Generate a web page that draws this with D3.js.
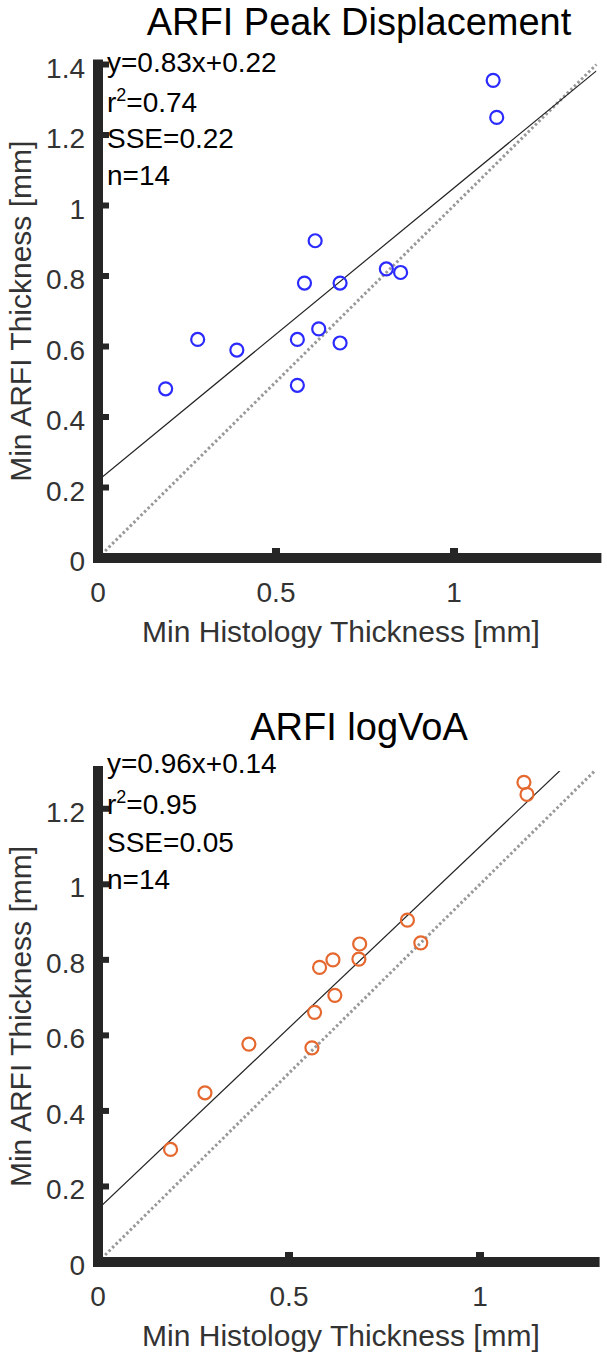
<!DOCTYPE html>
<html>
<head>
<meta charset="utf-8">
<script src="https://d3js.org/d3.v7.min.js"></script>
<style>
  body { margin: 0; background: #fff; }
  svg { display: block; font-family: "Liberation Sans", Arial, sans-serif; }
</style>
</head>
<body>
<svg id="chart" width="607" height="1361"></svg>
<script>
// panel titles and axis labels
const titles = ["ARFI Peak Displacement", "ARFI logVoA"];
const xLabel = "Min Histology Thickness [mm]";
const yLabel = "Min ARFI Thickness [mm]";

// histology thickness (x) and ARFI thickness (y)
const peakX = [1.11, 1.12, 0.61, 0.58, 0.68, 0.81, 0.85, 0.28, 0.39, 0.56, 0.62, 0.68, 0.19, 0.56];
const peakY = [1.355, 1.25, 0.90, 0.78, 0.78, 0.82, 0.81, 0.62, 0.59, 0.62, 0.65, 0.61, 0.48, 0.49];

const voaX = [1.115, 1.123, 0.81, 0.845, 0.685, 0.683, 0.615, 0.58, 0.62, 0.567, 0.56, 0.395, 0.28, 0.19];
const voaY = [1.27, 1.238, 0.905, 0.845, 0.842, 0.802, 0.80, 0.78, 0.706, 0.661, 0.567, 0.577, 0.448, 0.298];

// linear fits and stats text
const fitSlope = [0.83, 0.96];
const fitIntercept = [0.22, 0.14];
const fitText = ["y=0.83x+0.22", "y=0.96x+0.14"];
const r2Text = ["0.74", "0.95"];
const sseText = ["SSE=0.22", "SSE=0.05"];
const nText = ["n=14", "n=14"];

// axis limits and ticks
const axisMax = [1.4, 1.3];
const xTicks = [0, 0.5, 1];
const yTicks = [0, 0.2, 0.4, 0.6, 0.8, 1, 1.2, 1.4];

const markerColors = ["#2b2bff", "#e5682f"];

const svg = d3.select("#chart");

const panels = [
  { xs: peakX, ys: peakY, top: 64.5, bottom: 558, left: 98, right: 596.4, titleY: 35, statsY: [72, 112, 148, 185] },
  { xs: voaX, ys: voaY, top: 771, bottom: 1262, left: 98, right: 594.6, titleY: 740, statsY: [773, 814, 852, 889] }
];

panels.forEach((p, i) => {
  const max = axisMax[i];
  const x = d3.scaleLinear().domain([0, max]).range([p.left, p.right]);
  const y = d3.scaleLinear().domain([0, max]).range([p.bottom, p.top]);
  const g = svg.append("g");

  const clipId = "clip" + i;
  svg.append("clipPath").attr("id", clipId)
    .append("rect")
    .attr("x", p.left).attr("y", p.top)
    .attr("width", p.right - p.left).attr("height", p.bottom - p.top);

  // identity line (dotted gray)
  g.append("line")
    .attr("x1", x(0)).attr("y1", y(0))
    .attr("x2", x(max)).attr("y2", y(max))
    .attr("stroke", "#999")
    .attr("stroke-width", 3)
    .attr("stroke-dasharray", "2.5,2.5");

  // fit line
  g.append("line")
    .attr("clip-path", `url(#${clipId})`)
    .attr("x1", x(0)).attr("y1", y(fitIntercept[i]))
    .attr("x2", x(max)).attr("y2", y(fitSlope[i] * max + fitIntercept[i]))
    .attr("stroke", "#222")
    .attr("stroke-width", 1.2);

  // points
  g.selectAll("circle.pt")
    .data(p.xs.map((v, k) => [v, p.ys[k]]))
    .join("circle")
    .attr("class", "pt")
    .attr("cx", d => x(d[0]))
    .attr("cy", d => y(d[1]))
    .attr("r", 6.5)
    .attr("fill", "none")
    .attr("stroke", markerColors[i])
    .attr("stroke-width", 2.2);

  // axes (thick lines with inward ticks)
  const axisColor = "#262626";
  g.append("line")
    .attr("x1", p.left).attr("y1", p.bottom)
    .attr("x2", p.left).attr("y2", p.top)
    .attr("stroke", axisColor).attr("stroke-width", 10).attr("stroke-linecap", "square");
  g.append("line")
    .attr("x1", p.left).attr("y1", p.bottom)
    .attr("x2", p.right).attr("y2", p.bottom)
    .attr("stroke", axisColor).attr("stroke-width", 10).attr("stroke-linecap", "square");

  const yt = yTicks.filter(v => v <= max + 1e-9);
  g.selectAll("line.ytick").data(yt.filter(v => v > 0)).join("line")
    .attr("class", "ytick")
    .attr("x1", p.left).attr("x2", p.left + 11)
    .attr("y1", d => y(d)).attr("y2", d => y(d))
    .attr("stroke", axisColor).attr("stroke-width", 6);
  g.selectAll("line.xtick").data(xTicks.filter(v => v > 0)).join("line")
    .attr("class", "xtick")
    .attr("x1", d => x(d)).attr("x2", d => x(d))
    .attr("y1", p.bottom).attr("y2", p.bottom - 10)
    .attr("stroke", axisColor).attr("stroke-width", 8);

  g.selectAll("text.ylab").data(yt).join("text")
    .attr("class", "ylab")
    .attr("x", p.left - 13)
    .attr("y", d => y(d) + 13)
    .attr("text-anchor", "end")
    .attr("font-size", 28)
    .attr("fill", "#333")
    .text(d => d3.format("")(d));
  g.selectAll("text.xlab").data(xTicks).join("text")
    .attr("class", "xlab")
    .attr("x", d => x(d))
    .attr("y", p.bottom + 44)
    .attr("text-anchor", "middle")
    .attr("font-size", 28)
    .attr("fill", "#333")
    .text(d => d3.format("")(d));

  // axis labels
  g.append("text")
    .attr("x", 341).attr("y", p.bottom + 84)
    .attr("text-anchor", "middle")
    .attr("font-size", 30)
    .attr("fill", "#333")
    .text(xLabel);
  g.append("text")
    .attr("transform", `translate(31,${(p.top + p.bottom) / 2}) rotate(-90)`)
    .attr("text-anchor", "middle")
    .attr("font-size", 30)
    .attr("fill", "#333")
    .text(yLabel);

  // title
  g.append("text")
    .attr("x", 359).attr("y", p.titleY)
    .attr("text-anchor", "middle")
    .attr("font-size", 38)
    .attr("fill", "#000")
    .text(titles[i]);

  // stats
  const sx = p.left + 9;
  g.append("text").attr("x", sx).attr("y", p.statsY[0]).attr("font-size", 28).text(fitText[i]);
  const r2 = g.append("text").attr("x", sx).attr("y", p.statsY[1]).attr("font-size", 28);
  r2.append("tspan").text("r");
  r2.append("tspan").attr("font-size", 18).attr("dy", -11).text("2");
  r2.append("tspan").attr("dy", 11).text("=" + r2Text[i]);
  g.append("text").attr("x", sx).attr("y", p.statsY[2]).attr("font-size", 28).text(sseText[i]);
  g.append("text").attr("x", sx).attr("y", p.statsY[3]).attr("font-size", 28).text(nText[i]);
});
</script>
</body>
</html>
